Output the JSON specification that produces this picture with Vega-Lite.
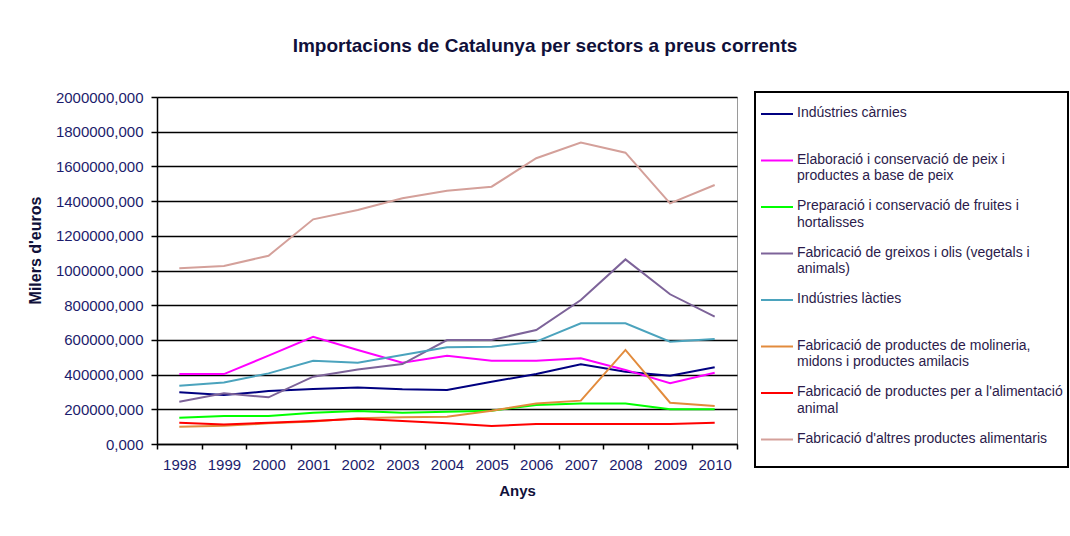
{
  "$schema": "https://vega.github.io/schema/vega-lite/v6.json",
  "autosize": {"type": "none"},
  "width": 580,
  "height": 347,
  "padding": {"left": 157, "top": 97, "right": 333, "bottom": 92},
  "background": "white",
  "title": {
    "text": "Importacions de Catalunya per sectors a preus corrents",
    "font": "Liberation Sans",
    "fontSize": 19,
    "fontWeight": "bold",
    "color": "#10103A",
    "anchor": "middle",
    "dx": 98,
    "offset": 34
  },
  "config": {
    "view": {"stroke": "#9a9a9a", "strokeWidth": 1},
    "font": "Liberation Sans"
  },
  "data": {
    "values": [
      {"year": "1998", "sector": "Indústries càrnies", "value": 298000},
      {"year": "1999", "sector": "Indústries càrnies", "value": 282000},
      {"year": "2000", "sector": "Indústries càrnies", "value": 305000},
      {"year": "2001", "sector": "Indústries càrnies", "value": 317000},
      {"year": "2002", "sector": "Indústries càrnies", "value": 325000},
      {"year": "2003", "sector": "Indústries càrnies", "value": 315000},
      {"year": "2004", "sector": "Indústries càrnies", "value": 311000},
      {"year": "2005", "sector": "Indústries càrnies", "value": 359000},
      {"year": "2006", "sector": "Indústries càrnies", "value": 403000},
      {"year": "2007", "sector": "Indústries càrnies", "value": 459000},
      {"year": "2008", "sector": "Indústries càrnies", "value": 417000},
      {"year": "2009", "sector": "Indústries càrnies", "value": 394000},
      {"year": "2010", "sector": "Indústries càrnies", "value": 442000},
      {"year": "1998", "sector": "Elaboració i conservació de peix i productes a base de peix", "value": 403000},
      {"year": "1999", "sector": "Elaboració i conservació de peix i productes a base de peix", "value": 403000},
      {"year": "2000", "sector": "Elaboració i conservació de peix i productes a base de peix", "value": 509000},
      {"year": "2001", "sector": "Elaboració i conservació de peix i productes a base de peix", "value": 618000},
      {"year": "2002", "sector": "Elaboració i conservació de peix i productes a base de peix", "value": 542000},
      {"year": "2003", "sector": "Elaboració i conservació de peix i productes a base de peix", "value": 469000},
      {"year": "2004", "sector": "Elaboració i conservació de peix i productes a base de peix", "value": 509000},
      {"year": "2005", "sector": "Elaboració i conservació de peix i productes a base de peix", "value": 480000},
      {"year": "2006", "sector": "Elaboració i conservació de peix i productes a base de peix", "value": 480000},
      {"year": "2007", "sector": "Elaboració i conservació de peix i productes a base de peix", "value": 494000},
      {"year": "2008", "sector": "Elaboració i conservació de peix i productes a base de peix", "value": 427000},
      {"year": "2009", "sector": "Elaboració i conservació de peix i productes a base de peix", "value": 350000},
      {"year": "2010", "sector": "Elaboració i conservació de peix i productes a base de peix", "value": 411000},
      {"year": "1998", "sector": "Preparació i conservació de fruites i hortalisses", "value": 152000},
      {"year": "1999", "sector": "Preparació i conservació de fruites i hortalisses", "value": 161000},
      {"year": "2000", "sector": "Preparació i conservació de fruites i hortalisses", "value": 161000},
      {"year": "2001", "sector": "Preparació i conservació de fruites i hortalisses", "value": 180000},
      {"year": "2002", "sector": "Preparació i conservació de fruites i hortalisses", "value": 190000},
      {"year": "2003", "sector": "Preparació i conservació de fruites i hortalisses", "value": 180000},
      {"year": "2004", "sector": "Preparació i conservació de fruites i hortalisses", "value": 186000},
      {"year": "2005", "sector": "Preparació i conservació de fruites i hortalisses", "value": 192000},
      {"year": "2006", "sector": "Preparació i conservació de fruites i hortalisses", "value": 225000},
      {"year": "2007", "sector": "Preparació i conservació de fruites i hortalisses", "value": 234000},
      {"year": "2008", "sector": "Preparació i conservació de fruites i hortalisses", "value": 234000},
      {"year": "2009", "sector": "Preparació i conservació de fruites i hortalisses", "value": 200000},
      {"year": "2010", "sector": "Preparació i conservació de fruites i hortalisses", "value": 200000},
      {"year": "1998", "sector": "Fabricació de greixos i olis (vegetals i animals)", "value": 244000},
      {"year": "1999", "sector": "Fabricació de greixos i olis (vegetals i animals)", "value": 292000},
      {"year": "2000", "sector": "Fabricació de greixos i olis (vegetals i animals)", "value": 269000},
      {"year": "2001", "sector": "Fabricació de greixos i olis (vegetals i animals)", "value": 388000},
      {"year": "2002", "sector": "Fabricació de greixos i olis (vegetals i animals)", "value": 430000},
      {"year": "2003", "sector": "Fabricació de greixos i olis (vegetals i animals)", "value": 461000},
      {"year": "2004", "sector": "Fabricació de greixos i olis (vegetals i animals)", "value": 599000},
      {"year": "2005", "sector": "Fabricació de greixos i olis (vegetals i animals)", "value": 599000},
      {"year": "2006", "sector": "Fabricació de greixos i olis (vegetals i animals)", "value": 657000},
      {"year": "2007", "sector": "Fabricació de greixos i olis (vegetals i animals)", "value": 830000},
      {"year": "2008", "sector": "Fabricació de greixos i olis (vegetals i animals)", "value": 1064000},
      {"year": "2009", "sector": "Fabricació de greixos i olis (vegetals i animals)", "value": 863000},
      {"year": "2010", "sector": "Fabricació de greixos i olis (vegetals i animals)", "value": 734000},
      {"year": "1998", "sector": "Indústries làcties", "value": 336000},
      {"year": "1999", "sector": "Indústries làcties", "value": 355000},
      {"year": "2000", "sector": "Indústries làcties", "value": 407000},
      {"year": "2001", "sector": "Indústries làcties", "value": 480000},
      {"year": "2002", "sector": "Indústries làcties", "value": 469000},
      {"year": "2003", "sector": "Indústries làcties", "value": 513000},
      {"year": "2004", "sector": "Indústries làcties", "value": 557000},
      {"year": "2005", "sector": "Indústries làcties", "value": 561000},
      {"year": "2006", "sector": "Indústries làcties", "value": 590000},
      {"year": "2007", "sector": "Indústries làcties", "value": 696000},
      {"year": "2008", "sector": "Indústries làcties", "value": 696000},
      {"year": "2009", "sector": "Indústries làcties", "value": 590000},
      {"year": "2010", "sector": "Indústries làcties", "value": 605000},
      {"year": "1998", "sector": "Fabricació de productes de molineria, midons i productes amilacis", "value": 100000},
      {"year": "1999", "sector": "Fabricació de productes de molineria, midons i productes amilacis", "value": 105000},
      {"year": "2000", "sector": "Fabricació de productes de molineria, midons i productes amilacis", "value": 119000},
      {"year": "2001", "sector": "Fabricació de productes de molineria, midons i productes amilacis", "value": 129000},
      {"year": "2002", "sector": "Fabricació de productes de molineria, midons i productes amilacis", "value": 148000},
      {"year": "2003", "sector": "Fabricació de productes de molineria, midons i productes amilacis", "value": 154000},
      {"year": "2004", "sector": "Fabricació de productes de molineria, midons i productes amilacis", "value": 157000},
      {"year": "2005", "sector": "Fabricació de productes de molineria, midons i productes amilacis", "value": 192000},
      {"year": "2006", "sector": "Fabricació de productes de molineria, midons i productes amilacis", "value": 234000},
      {"year": "2007", "sector": "Fabricació de productes de molineria, midons i productes amilacis", "value": 250000},
      {"year": "2008", "sector": "Fabricació de productes de molineria, midons i productes amilacis", "value": 542000},
      {"year": "2009", "sector": "Fabricació de productes de molineria, midons i productes amilacis", "value": 238000},
      {"year": "2010", "sector": "Fabricació de productes de molineria, midons i productes amilacis", "value": 219000},
      {"year": "1998", "sector": "Fabricació de productes per a l'alimentació animal", "value": 123000},
      {"year": "1999", "sector": "Fabricació de productes per a l'alimentació animal", "value": 113000},
      {"year": "2000", "sector": "Fabricació de productes per a l'alimentació animal", "value": 123000},
      {"year": "2001", "sector": "Fabricació de productes per a l'alimentació animal", "value": 133000},
      {"year": "2002", "sector": "Fabricació de productes per a l'alimentació animal", "value": 145000},
      {"year": "2003", "sector": "Fabricació de productes per a l'alimentació animal", "value": 133000},
      {"year": "2004", "sector": "Fabricació de productes per a l'alimentació animal", "value": 119000},
      {"year": "2005", "sector": "Fabricació de productes per a l'alimentació animal", "value": 104000},
      {"year": "2006", "sector": "Fabricació de productes per a l'alimentació animal", "value": 115000},
      {"year": "2007", "sector": "Fabricació de productes per a l'alimentació animal", "value": 115000},
      {"year": "2008", "sector": "Fabricació de productes per a l'alimentació animal", "value": 115000},
      {"year": "2009", "sector": "Fabricació de productes per a l'alimentació animal", "value": 115000},
      {"year": "2010", "sector": "Fabricació de productes per a l'alimentació animal", "value": 123000},
      {"year": "1998", "sector": "Fabricació d'altres productes alimentaris", "value": 1013000},
      {"year": "1999", "sector": "Fabricació d'altres productes alimentaris", "value": 1026000},
      {"year": "2000", "sector": "Fabricació d'altres productes alimentaris", "value": 1085000},
      {"year": "2001", "sector": "Fabricació d'altres productes alimentaris", "value": 1295000},
      {"year": "2002", "sector": "Fabricació d'altres productes alimentaris", "value": 1349000},
      {"year": "2003", "sector": "Fabricació d'altres productes alimentaris", "value": 1416000},
      {"year": "2004", "sector": "Fabricació d'altres productes alimentaris", "value": 1460000},
      {"year": "2005", "sector": "Fabricació d'altres productes alimentaris", "value": 1483000},
      {"year": "2006", "sector": "Fabricació d'altres productes alimentaris", "value": 1647000},
      {"year": "2007", "sector": "Fabricació d'altres productes alimentaris", "value": 1737000},
      {"year": "2008", "sector": "Fabricació d'altres productes alimentaris", "value": 1679000},
      {"year": "2009", "sector": "Fabricació d'altres productes alimentaris", "value": 1387000},
      {"year": "2010", "sector": "Fabricació d'altres productes alimentaris", "value": 1493000}
    ]
  },
  "mark": {"type": "line", "strokeWidth": 2},
  "encoding": {
    "x": {
      "field": "year",
      "type": "ordinal",
      "bandPosition": 0.5,
      "scale": {"type": "band", "paddingInner": 0, "paddingOuter": 0},
      "axis": {
        "title": "Anys",
        "titleFont": "Liberation Sans",
        "titleFontSize": 15,
        "titleFontWeight": "bold",
        "titleColor": "#10103A",
        "titleX": 360,
        "titleY": 46,
        "titleBaseline": "middle",
        "labelAngle": 0,
        "labelFont": "Liberation Sans",
        "labelFontSize": 15,
        "labelColor": "#1C1C6C",
        "labelPadding": 8,
        "tickBand": "extent",
        "tickColor": "black",
        "tickSize": 5,
        "tickWidth": 1.5,
        "domainColor": "black",
        "domainWidth": 1.5,
        "grid": false
      }
    },
    "y": {
      "field": "value",
      "type": "quantitative",
      "scale": {"domain": [0, 2000000], "nice": false},
      "axis": {
        "title": "Milers d'euros",
        "titleFont": "Liberation Sans",
        "titleFontSize": 16,
        "titleFontWeight": "bold",
        "titleColor": "#10103A",
        "titleX": -122,
        "titleY": 153,
        "titleAngle": -90,
        "titleBaseline": "middle",
        "titleAlign": "center",
        "values": [0, 200000, 400000, 600000, 800000, 1000000, 1200000, 1400000, 1600000, 1800000, 2000000],
        "labelExpr": "replace(format(datum.value, '.3f'), '.', ',')",
        "labelFont": "Liberation Sans",
        "labelFontSize": 15,
        "labelColor": "#1C1C6C",
        "labelPadding": 8,
        "tickColor": "black",
        "tickSize": 6,
        "tickWidth": 1.5,
        "domainColor": "black",
        "domainWidth": 1.5,
        "grid": true,
        "gridColor": "black",
        "gridWidth": 1.6
      }
    },
    "color": {
      "field": "sector",
      "type": "nominal",
      "scale": {
        "domain": [
          "Indústries càrnies",
          "Elaboració i conservació de peix i productes a base de peix",
          "Preparació i conservació de fruites i hortalisses",
          "Fabricació de greixos i olis (vegetals i animals)",
          "Indústries làcties",
          "Fabricació de productes de molineria, midons i productes amilacis",
          "Fabricació de productes per a l'alimentació animal",
          "Fabricació d'altres productes alimentaris"
        ],
        "range": ["#000080", "#FF00FF", "#00FF00", "#7D6399", "#4BA3BD", "#E28B3C", "#FF0000", "#D4A09A"]
      },
      "legend": {
        "title": null,
        "orient": "none",
        "legendX": 598,
        "legendY": -5,
        "direction": "vertical",
        "strokeColor": "black",
        "fillColor": "white",
        "padding": 5,
        "symbolType": "stroke",
        "symbolSize": 1024,
        "symbolStrokeWidth": 2,
        "labelFont": "Liberation Sans",
        "labelFontSize": 14,
        "labelColor": "#2B1B4B",
        "labelLimit": 400,
        "labelOffset": 3,
        "labelBaseline": "top",
        "rowPadding": 6.5,
        "encode": {
          "legend": {"update": {"strokeWidth": {"value": 2}}},
          "labels": {"update": {"dy": {"value": -8}, "lineHeight": {"value": 16.5}}}
        },
        "labelExpr": "datum.label == 'Indústries càrnies' ? ['Indústries càrnies', ''] : datum.label == 'Elaboració i conservació de peix i productes a base de peix' ? ['Elaboració i conservació de peix i', 'productes a base de peix'] : datum.label == 'Preparació i conservació de fruites i hortalisses' ? ['Preparació i conservació de fruites i', 'hortalisses'] : datum.label == 'Fabricació de greixos i olis (vegetals i animals)' ? ['Fabricació de greixos i olis (vegetals i', 'animals)'] : datum.label == 'Indústries làcties' ? ['Indústries làcties', ''] : datum.label == 'Fabricació de productes de molineria, midons i productes amilacis' ? ['Fabricació de productes de molineria,', 'midons i productes amilacis'] : datum.label == \"Fabricació de productes per a l'alimentació animal\" ? [\"Fabricació de productes per a l'alimentació\", 'animal'] : [\"Fabricació d'altres productes alimentaris\", '']"
      }
    }
  }
}
